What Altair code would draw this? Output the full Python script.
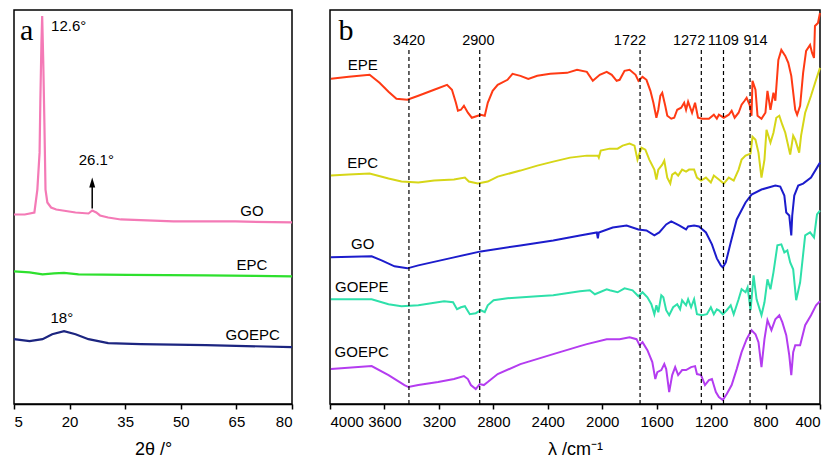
import altair as alt
import pandas as pd

FONT = "Liberation Sans"
SERIF = "Liberation Serif"

# ---------------- Panel a : XRD (2theta in degrees, intensity a.u.) ----------------
go_2t = [5.0, 7.9, 10.5, 11.3, 11.9, 12.1, 12.4, 12.6, 12.9, 13.2, 13.5, 14.0, 15.0, 16.4,
         21.6, 25.1, 26.1, 27.2, 28.2, 30.4, 33.8, 48.0, 64.7, 80.0]
go_int = [190, 190, 192, 215, 252, 302, 362, 389, 342, 282, 215, 202, 197, 195,
          192, 191, 194, 192, 189, 187, 185, 183, 183, 182]

epc_2t = [5.0, 9.2, 12.7, 15.8, 18.5, 22.4, 35.6, 56.8, 70.0, 80.0]
epc_int = [133, 132, 130, 131, 131.5, 130, 129.5, 129, 128.5, 128]

goepc_2t = [5.0, 9.2, 12.7, 15.3, 18.5, 21.6, 25.1, 30.4, 39.1, 56.8, 80.0]
goepc_int = [65, 63, 65, 70, 73, 70, 65, 61, 60, 59, 57]

xrd_names = ["GO", "EPC", "GOEPC"]
xrd_colors = ["#f47ab6", "#2ee02e", "#1c2580"]

xrd_label_text = ["GO", "EPC", "GOEPC", "18°", "26.1°"]
xrd_label_2t = [69.2, 69.2, 69.4, 17.9, 27.2]
xrd_label_int = [193, 139, 69, 86, 245]

peak_126_2t = [15.0]
peak_126_int = [379]

arrow_2t = [26.1]
arrow_from = [196]
arrow_to = [218]
arrow_head = [222]

# ---------------- Panel b : FTIR (wavenumber cm-1, transmittance a.u.) ----------------
epe_wn = [3993, 3862, 3709, 3636, 3570, 3512, 3432, 3351, 3235, 3140, 3104, 3075, 3060, 3038, 3016,
          2987, 2958, 2914, 2892, 2863, 2841, 2805, 2768, 2696, 2659, 2601, 2543, 2477, 2382, 2258,
          2185, 2113, 2069, 2018, 1967, 1930, 1894, 1872, 1836, 1799, 1755, 1734, 1704, 1675, 1646,
          1624, 1602, 1588, 1573, 1559, 1537, 1522, 1493, 1471, 1449, 1420, 1398, 1384, 1369, 1340,
          1318, 1296, 1267, 1216, 1180, 1158, 1143, 1107, 1070, 1049, 1027, 998, 976, 954, 939,
          917, 903, 896, 874, 859, 830, 801, 786, 764, 742, 728, 706, 684, 655, 633,
          611, 582, 568, 546, 524, 502, 473, 458, 444, 437, 415, 400]
epe_t = [326, 328, 330, 322, 313, 306, 305, 309, 315, 320, 315, 302, 294, 295, 299,
         292, 287, 289, 290, 289, 302, 314, 320, 325, 331, 329, 326, 329, 331, 332,
         335, 333, 324, 330, 333, 330, 324, 325, 334, 335, 330, 324, 328, 325, 314,
         302, 287, 295, 309, 312, 299, 289, 286, 287, 295, 297, 302, 295, 303, 292,
         302, 287, 286, 286, 290, 286, 290, 287, 290, 294, 287, 292, 300, 304, 307,
         300, 289, 324, 315, 289, 286, 292, 314, 295, 312, 304, 345, 355, 349, 342,
         329, 295, 290, 299, 332, 354, 360, 352, 347, 379, 382, 392]

epc_wn = [3993, 3862, 3709, 3570, 3475, 3351, 3235, 3089, 3009, 2980, 2914, 2841, 2768, 2601, 2477,
          2360, 2236, 2113, 2032, 2025, 2011, 1945, 1887, 1850, 1799, 1763, 1741, 1712, 1683, 1654,
          1617, 1602, 1588, 1559, 1544, 1522, 1500, 1486, 1464, 1442, 1413, 1384, 1362, 1325, 1304,
          1274, 1238, 1202, 1180, 1143, 1107, 1070, 1034, 998, 976, 947, 910, 896, 874, 852,
          830, 808, 793, 764, 742, 721, 699, 677, 655, 619, 597, 582, 553, 539, 509,
          466, 429, 400]
epc_t = [229, 230, 231, 226, 223, 222, 224, 225, 227, 223, 221, 223, 228, 234, 239,
         243, 247, 249, 249, 247, 254, 256, 256, 259, 261, 259, 245, 257, 255, 245,
         235, 225, 235, 240, 244, 227, 221, 230, 232, 229, 235, 233, 235, 235, 227,
         224, 227, 222, 229, 225, 221, 227, 224, 235, 245, 249, 251, 268, 265, 252,
         227, 245, 275, 262, 272, 287, 289, 280, 272, 250, 269, 265, 252, 269, 292,
         309, 325, 337]

gob_wn = [3993, 3694, 3621, 3526, 3432, 3351, 3089, 2892, 2601, 2360, 2164, 2040, 2032, 2025, 1923,
          1821, 1734, 1675, 1617, 1581, 1530, 1493, 1435, 1384, 1369, 1325, 1289, 1238, 1194, 1158,
          1129, 1114, 1092, 1056, 1012, 947, 903, 830, 728, 692, 662, 648, 626, 611, 604,
          589, 560, 524, 466, 400]
gob_t = [147, 148, 144, 138, 136, 139, 147, 153, 159, 164, 169, 172, 166, 172, 177,
         179, 175, 174, 169, 172, 180, 183, 179, 175, 178, 179, 178, 172, 160, 146,
         139, 137, 142, 162, 185, 202, 210, 215, 219, 218, 209, 192, 189, 169, 189,
         209, 219, 221, 227, 242]

goepe_wn = [3993, 3694, 3570, 3475, 3351, 3162, 3096, 3067, 3038, 3009, 2973, 2929, 2892, 2863, 2841,
            2798, 2696, 2477, 2360, 2164, 2091, 2054, 1967, 1945, 1887, 1836, 1777, 1734, 1704, 1668,
            1639, 1617, 1602, 1588, 1566, 1551, 1530, 1508, 1479, 1449, 1428, 1413, 1384, 1369, 1347,
            1325, 1304, 1267, 1231, 1202, 1180, 1158, 1143, 1114, 1085, 1056, 1034, 998, 976, 947,
            932, 910, 888, 866, 830, 808, 786, 764, 742, 713, 684, 662, 640, 619, 597,
            575, 546, 509, 473, 444, 422, 400]
goepe_t = [105, 105, 100, 98, 99, 103, 102, 95, 97, 98, 90, 91, 94, 92, 99,
           104, 106, 108, 109, 113, 114, 110, 115, 114, 112, 116, 114, 108, 112, 107,
           100, 90, 99, 92, 109, 107, 94, 89, 97, 100, 95, 104, 99, 105, 97,
           105, 90, 89, 90, 97, 90, 95, 94, 90, 94, 99, 90, 105, 115, 112,
           117, 94, 129, 105, 89, 102, 125, 115, 132, 159, 160, 152, 154, 142, 135,
           104, 122, 169, 172, 167, 190, 194]

goepcb_wn = [3993, 3694, 3570, 3453, 3424, 3351, 3206, 3089, 3016, 2987, 2965, 2929, 2900, 2870, 2841,
             2768, 2601, 2360, 2164, 2113, 1967, 1872, 1799, 1748, 1726, 1704, 1668, 1632, 1610, 1595,
             1566, 1544, 1530, 1508, 1486, 1464, 1442, 1413, 1384, 1347, 1318, 1304, 1274, 1245, 1216,
             1194, 1165, 1143, 1114, 1085, 1049, 1012, 976, 939, 903, 874, 852, 830, 808, 786,
             757, 728, 699, 677, 648, 626, 611, 597, 582, 546, 509, 466, 429, 400]
goepcb_t = [35, 38, 29, 19, 17, 19, 22, 25, 28, 25, 19, 15, 20, 19, 22,
            30, 40, 50, 58, 60, 65, 65, 67, 65, 59, 62, 54, 42, 25, 32,
            34, 40, 35, 12, 29, 37, 29, 34, 34, 37, 38, 30, 29, 19, 24,
            25, 12, 7, 4, 10, 19, 35, 52, 65, 74, 70, 62, 37, 65, 84,
            74, 85, 89, 82, 69, 49, 29, 52, 59, 59, 79, 89, 99, 103]

ftir_names = ["EPE", "EPC", "GO", "GOEPE", "GOEPC"]
ftir_colors = ["#ff3a14", "#d6d618", "#1c1ccc", "#2ee0aa", "#b43cf0"]

ftir_label_text = ["EPE", "EPC", "GO", "GOEPE", "GOEPC"]
ftir_label_wn = [3760, 3760, 3760, 3767, 3767]
ftir_label_t = [340, 242, 160, 117, 52]

band_wn = [3420, 2900, 1722, 1272, 1109, 914]
band_text = ["3420", "2900", "1722", "1272", "1109", "914"]
band_label_wn = [3420, 2910, 1796, 1362, 1111, 874]
band_top = [355]
band_label_t = [364]

W_A, W_B, H = 278, 490, 394

# ---------------- panel a ----------------
xa = alt.X("theta:Q", scale=alt.Scale(domain=[5, 80], nice=False, zero=False),
           axis=alt.Axis(values=[5, 20, 35, 50, 65, 80], title="2θ /°", format="d",
                         labelOverlap=False))
ya = alt.Y("intensity:Q", scale=alt.Scale(domain=[0, 395], nice=False, zero=False), axis=None)

layers_a = []
for xs, ys, col in zip([go_2t, epc_2t, goepc_2t], [go_int, epc_int, goepc_int], xrd_colors):
    d = pd.DataFrame({"theta": xs, "intensity": ys})
    layers_a.append(alt.Chart(d).mark_line(strokeWidth=2.2, color=col).encode(x=xa, y=ya))

arrow_df = pd.DataFrame({"theta": arrow_2t, "intensity": arrow_from, "intensity_end": arrow_to})
layers_a.append(alt.Chart(arrow_df).mark_rule(color="black", strokeWidth=1.5).encode(
    x=xa, y=ya, y2="intensity_end:Q"))
tip_df = pd.DataFrame({"theta": arrow_2t, "intensity": arrow_head})
layers_a.append(alt.Chart(tip_df).mark_point(
    shape="M0,-1L0.6,1L-0.6,1Z", filled=True, color="black", opacity=1, size=100).encode(
    x=xa, y=ya))

layers_a.append(alt.Chart(pd.DataFrame({"theta": xrd_label_2t, "intensity": xrd_label_int,
                                        "text": xrd_label_text})).mark_text(
    font=FONT, fontSize=15, color="black").encode(x=xa, y=ya, text="text:N"))
layers_a.append(alt.Chart(pd.DataFrame({"theta": peak_126_2t, "intensity": peak_126_int,
                                        "text": ["12.6°"]})).mark_text(
    font=FONT, fontSize=15, color="black", align="left").encode(x=xa, y=ya, text="text:N"))
layers_a.append(alt.Chart(pd.DataFrame({"theta": [8.4], "intensity": [374],
                                        "text": ["a"]})).mark_text(
    font=SERIF, fontSize=30, color="black").encode(x=xa, y=ya, text="text:N"))

panel_a = alt.layer(*layers_a).properties(width=W_A, height=H)

# ---------------- panel b ----------------
xb = alt.X("wn:Q", scale=alt.Scale(domain=[400, 4000], reverse=True, nice=False, zero=False),
           axis=alt.Axis(values=[4000, 3600, 3200, 2800, 2400, 2000, 1600, 1200, 800, 400],
                         title="λ /cm⁻¹", format="d", labelOverlap=False))
yb = alt.Y("intensity:Q", scale=alt.Scale(domain=[0, 395], nice=False, zero=False), axis=None)

layers_b = []
for xs, ys, col in zip([epe_wn, epc_wn, gob_wn, goepe_wn, goepcb_wn],
                       [epe_t, epc_t, gob_t, goepe_t, goepcb_t], ftir_colors):
    d = pd.DataFrame({"wn": xs, "intensity": ys})
    layers_b.append(alt.Chart(d).mark_line(strokeWidth=2, color=col).encode(x=xb, y=yb))

band_df = pd.DataFrame({"wn": band_wn, "intensity": [0] * len(band_wn),
                        "intensity_top": band_top * len(band_wn)})
layers_b.append(alt.Chart(band_df).mark_rule(color="black", strokeWidth=1.2,
                                             strokeDash=[4, 3]).encode(
    x=xb, y=yb, y2="intensity_top:Q"))
layers_b.append(alt.Chart(pd.DataFrame({"wn": band_label_wn,
                                        "intensity": band_label_t * len(band_wn),
                                        "text": band_text})).mark_text(
    font=FONT, fontSize=14.5, color="black").encode(x=xb, y=yb, text="text:N"))
layers_b.append(alt.Chart(pd.DataFrame({"wn": ftir_label_wn, "intensity": ftir_label_t,
                                        "text": ftir_label_text})).mark_text(
    font=FONT, fontSize=15, color="black").encode(x=xb, y=yb, text="text:N"))
layers_b.append(alt.Chart(pd.DataFrame({"wn": [3883], "intensity": [374],
                                        "text": ["b"]})).mark_text(
    font=SERIF, fontSize=30, color="black").encode(x=xb, y=yb, text="text:N"))

panel_b = alt.layer(*layers_b).properties(width=W_B, height=H)

chart = alt.hconcat(panel_a, panel_b, spacing=28).properties(
    padding=0,
    background="white",
).configure_view(stroke="black", strokeWidth=1.5).configure_axis(
    grid=False, domainColor="black", domainWidth=1.5, tickColor="black", tickWidth=1.5,
    tickSize=5, labelFont=FONT, labelFontSize=15, labelColor="black", labelPadding=5,
    titleFont=FONT, titleFontSize=18, titleFontWeight="normal", titleColor="black",
    titlePadding=11,
)

chart.save("out.html", embed_options={"renderer": "svg", "actions": False})
